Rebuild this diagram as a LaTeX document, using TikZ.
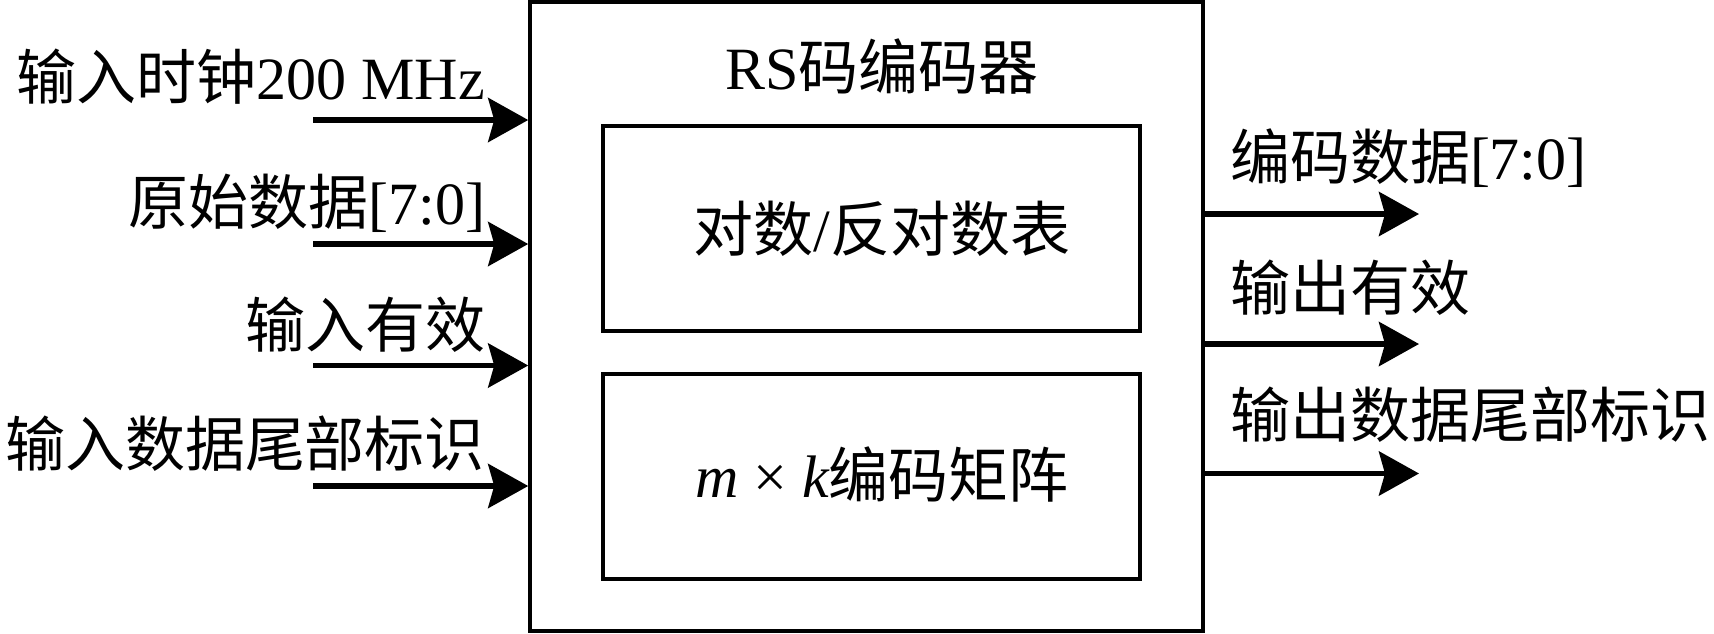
\documentclass[tikz,border=0pt]{standalone}
\usepackage{fontspec}
\setmainfont{Liberation Serif}
\newfontfamily\cjk{Noto Sans CJK SC}
\usetikzlibrary{arrows.meta}
\begin{document}
\begin{tikzpicture}[x=0.5pt,y=-0.5pt,
  font=\fontsize{30pt}{36pt}\selectfont,
  box/.style={draw, line width=1.8pt, inner sep=0pt, rectangle},
  inbox/.style={draw, line width=2.1pt, inner sep=0pt, rectangle},
  lbl/.style={inner sep=0pt, outer sep=0pt},
  arr/.style={line width=2.8pt, -{Stealth[length=20pt,width=22pt,inset=3pt]}}]
\useasboundingbox (0,0) rectangle (1714,633);
% boxes
\node[box, minimum width=336.5pt, minimum height=314.5pt] (enc) at (866.5,316.5) {};
\node[inbox, minimum width=268.5pt, minimum height=102.5pt] (tab) at (871.5,228.5) {};
\node[inbox, minimum width=268.5pt, minimum height=102.5pt] (mat) at (871.5,476.5) {};
% box texts
\node[lbl, anchor=base] (title) at (882,89) {RS{\cjk 码编码器}};
\node[lbl, anchor=base] (tabt) at (882,251) {{\cjk 对数}/{\cjk 反对数表}};
\node[lbl, anchor=base] (matt) at (882,497) {{\itshape m} × {\itshape k}{\cjk 编码矩阵}};
% input labels
\node[lbl, anchor=base east] (l1) at (485,99) {{\cjk 输入时钟}200 MHz};
\node[lbl, anchor=base east] (l2) at (485,224) {{\cjk 原始数据}[7:0]};
\node[lbl, anchor=base east] (l3) at (485,347) {{\cjk 输入有效}};
\node[lbl, anchor=base east] (l4) at (485,466) {{\cjk 输入数据尾部标识}};
% input arrow starts
\coordinate (i1) at (313,120);
\coordinate (i2) at (313,244);
\coordinate (i3) at (313,365.5);
\coordinate (i4) at (313,486);
\draw[arr] (i1) -- (i1 -| enc.west);
\draw[arr] (i2) -- (i2 -| enc.west);
\draw[arr] (i3) -- (i3 -| enc.west);
\draw[arr] (i4) -- (i4 -| enc.west);
% output labels
\node[lbl, anchor=base west] (o1l) at (1230,179) {{\cjk 编码数据}[7:0]};
\node[lbl, anchor=base west] (o2l) at (1230,310) {{\cjk 输出有效}};
\node[lbl, anchor=base west] (o3l) at (1230,437) {{\cjk 输出数据尾部标识}};
% output arrow ends
\coordinate (o1) at (1419,214);
\coordinate (o2) at (1419,344);
\coordinate (o3) at (1419,473.5);
\draw[arr] (o1 -| enc.east) -- (o1);
\draw[arr] (o2 -| enc.east) -- (o2);
\draw[arr] (o3 -| enc.east) -- (o3);
\end{tikzpicture}
\end{document}
